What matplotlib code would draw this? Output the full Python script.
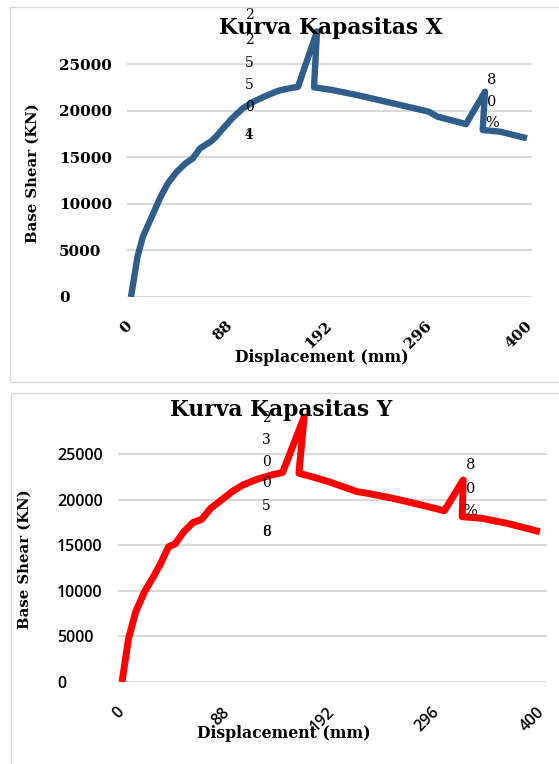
import matplotlib
matplotlib.use("Agg")
import matplotlib.pyplot as plt
from matplotlib.patches import Rectangle

# ---- data -------------------------------------------------------------
# category positions along the displacement axis and their tick labels
tick_pos = [0, 100, 200, 300, 400]
tick_labels = ["0", "88", "192", "296", "400"]
y_ticks = [0, 5000, 10000, 15000, 20000, 25000]

# capacity curve, X direction
x_dir_pos = [1, 7.5, 12.9, 21.8, 30.7, 37.9, 46.8, 55.7, 62.9, 70, 80.7, 86,
             93.2, 102.1, 112.9, 123.6, 134.3, 148.6, 159.3, 168, 187, 184,
             202, 227, 263, 298.6, 307.5, 336, 355, 352.7, 370, 397]
x_dir_shear = [0, 4330, 6480, 8620, 10770, 12200, 13450, 14350, 14880, 15950,
               16670, 17200, 18100, 19170, 20250, 20960, 21500, 22140, 22390,
               22550, 28500, 22500, 22210, 21670, 20780, 19890, 19350, 18550,
               22030, 17920, 17740, 17030]

# capacity curve, Y direction
y_dir_pos = [0, 6.3, 13.1, 21.5, 30, 36.9, 44.4, 50.5, 59, 67.5, 75.9, 84.5,
             94.7, 104.9, 115.1, 128.7, 142.3, 153, 173.5, 168.5, 183, 196.8,
             210.4, 223.9, 234.2, 258, 285.2, 307, 325, 324, 343, 366.8, 398]
y_dir_shear = [0, 4800, 7720, 9920, 11570, 13030, 14860, 15150, 16510, 17500,
               17860, 19070, 19980, 20900, 21630, 22260, 22730, 23005, 29100,
               22920, 22470, 22000, 21450, 20900, 20710, 20170, 19430, 18800,
               22180, 18150, 17970, 17420, 16500]

# data labels (written one character per line, last two overprinted)
x_label_chars = ["2", "2", "5", "5", "0"]
x_label_tail = ["4", "1"]
y_label_chars = ["2", "3", "0", "0", "5"]
y_label_tail = ["6", "8"]
pct_chars = ["8", "0", "%"]

# ---- figure -----------------------------------------------------------
W, H = 559, 764
fig = plt.figure(figsize=(W / 100, H / 100), dpi=100, facecolor="white")

GRID = "#d9d9d9"
SERIF = "DejaVu Serif"


def fx(px):
    return px / W


def fy(px):
    return 1 - px / H


# chart-area borders
fig.add_artist(Rectangle((fx(10), fy(382)), fx(560) - fx(10), fy(7) - fy(382),
                         transform=fig.transFigure, fill=False, edgecolor=GRID, lw=1))
fig.add_artist(Rectangle((fx(11), fy(780)), fx(570) - fx(11), fy(393) - fy(780),
                         transform=fig.transFigure, fill=False, edgecolor=GRID, lw=1))


def make_axes(left, right, y0, y25):
    ytop = y0 - (y0 - y25) * 30000 / 25000
    ax = fig.add_axes([fx(left), fy(y0), fx(right) - fx(left), (y0 - ytop) / H])
    ax.set_ylim(0, 30000)
    for s in ax.spines.values():
        s.set_visible(False)
    ax.set_facecolor("none")
    ax.set_yticks(y_ticks)
    ax.set_xticks(tick_pos)
    ax.grid(axis="y", color=GRID, lw=1.5)
    ax.tick_params(length=0)
    ax.set_axisbelow(True)
    return ax


# ---- top chart ---------------------------------------------------------
ax1 = make_axes(127, 532, 297, 64)
ax1.set_xlim(-3, 402)
ax1.plot(x_dir_pos, x_dir_shear, color="#2f5d8c", lw=4.6,
         solid_joinstyle="round", solid_capstyle="butt", zorder=3)
ax1.set_yticklabels([str(v) for v in y_ticks], family=SERIF, weight="bold",
                    fontsize=11, ha="left")
ax1.tick_params(axis="y", pad=49)
ax1.set_xticklabels(tick_labels, family=SERIF, weight="bold", fontsize=11,
                    rotation=45, ha="right", va="center", rotation_mode="anchor")
ax1.tick_params(axis="x", pad=19)
ax1.set_ylabel("Base Shear (KN)", family=SERIF, weight="bold", fontsize=10.7,
               va="center")
ax1.yaxis.set_label_coords(-0.232, 0.4435)
ax1.set_xlabel("Displacement (mm)", family=SERIF, weight="bold", fontsize=11.3,
               va="center")
ax1.xaxis.set_label_coords(0.4815, -0.218)
fig.text(fx(331), fy(28), "Kurva Kapasitas X", family=SERIF, weight="bold",
         fontsize=15.7, ha="center", va="center", zorder=5)

pre = x_dir_shear.index(22550)
offs = [72, 47, 24, 2, -20]
for ch, dy in zip(x_label_chars, offs):
    ax1.annotate(ch, (x_dir_pos[pre], x_dir_shear[pre]), xytext=(-49, dy),
                 textcoords="offset pixels", family=SERIF, fontsize=10,
                 ha="center", va="center", zorder=6)
for ch in x_label_tail:
    ax1.annotate(ch, (x_dir_pos[pre], x_dir_shear[pre]), xytext=(-49, -48),
                 textcoords="offset pixels", family=SERIF, fontsize=10,
                 ha="center", va="center", zorder=6)

pk = x_dir_shear.index(22030)
for ch, dy in zip(pct_chars, [12, -10, -31]):
    ax1.annotate(ch, (x_dir_pos[pk], x_dir_shear[pk]), xytext=(7, dy),
                 textcoords="offset pixels", family=SERIF, fontsize=10.5,
                 ha="center", va="center", zorder=6)

# ---- bottom chart ------------------------------------------------------
SANS = "Open Sans"
ax2 = make_axes(118, 547, 682, 454.3)
ax2.set_xlim(-3.8, 404.8)
ax2.plot(y_dir_pos, y_dir_shear, color="#ff0000", lw=5,
         solid_joinstyle="round", solid_capstyle="butt", zorder=3)
ax2.set_yticklabels([str(v) for v in y_ticks], family=SANS, weight="semibold",
                    fontsize=11.5, ha="left")
ax2.tick_params(axis="y", pad=44)
ax2.set_xticklabels(tick_labels, family=SANS, weight="semibold", fontsize=11.5,
                    rotation=45, ha="right", va="center", rotation_mode="anchor")
ax2.tick_params(axis="x", pad=20)
ax2.set_ylabel("Base Shear (KN)", family=SERIF, weight="bold", fontsize=10.7,
               va="center")
ax2.yaxis.set_label_coords(-0.2168, 0.450)
ax2.set_xlabel("Displacement (mm)", family=SERIF, weight="bold", fontsize=11.3,
               va="center")
ax2.xaxis.set_label_coords(0.387, -0.187)
fig.text(fx(281), fy(410), "Kurva Kapasitas Y", family=SERIF, weight="bold",
         fontsize=15.7, ha="center", va="center", zorder=5)

pre2 = y_dir_shear.index(23005)
offs2 = [54.5, 32.5, 10.5, -10.5, -33.5]
for ch, dy in zip(y_label_chars, offs2):
    ax2.annotate(ch, (y_dir_pos[pre2], y_dir_shear[pre2]), xytext=(-16, dy),
                 textcoords="offset pixels", family=SERIF, fontsize=10,
                 ha="center", va="center", zorder=6)
for ch in y_label_tail:
    ax2.annotate(ch, (y_dir_pos[pre2], y_dir_shear[pre2]), xytext=(-16, -59.5),
                 textcoords="offset pixels", family=SERIF, fontsize=10,
                 ha="center", va="center", zorder=6)

pk2 = y_dir_shear.index(22180)
for ch, dy in zip(pct_chars, [15, -9, -31]):
    ax2.annotate(ch, (y_dir_pos[pk2], y_dir_shear[pk2]), xytext=(7, dy),
                 textcoords="offset pixels", family=SERIF, fontsize=10.5,
                 ha="center", va="center", zorder=6)

fig.savefig("out.png", dpi=100, facecolor="white")
